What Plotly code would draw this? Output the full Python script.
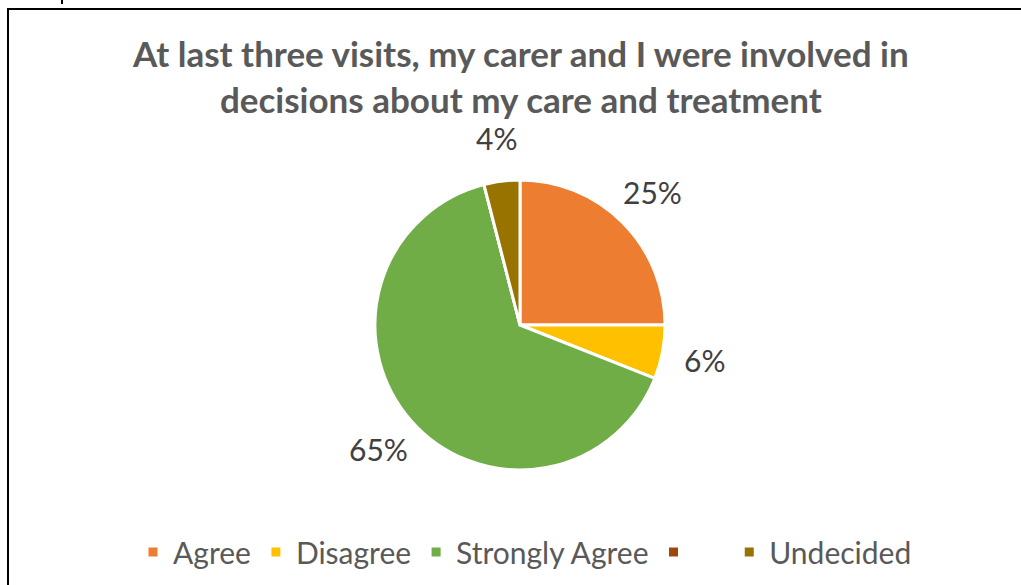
import math
import plotly.graph_objects as go

# Survey responses (percent of respondents)
categories = ["Agree", "Disagree", "Strongly Agree", "\u00a0\u00a0\u00a0\u00a0", "Undecided"]
values = [25, 6, 65, 0, 4]
colors = ["#ED7D31", "#FFC000", "#70AD47", "#9E480E", "#997300"]

title_lines = [
    "At last three visits, my carer and I were involved in",
    "decisions about my care and treatment",
]

W, H = 1021, 585
CX, CY, R = 520, 325, 145      # pie centre and radius in pixels
LABEL_GAP = 43                 # distance of value labels beyond the rim

fig = go.Figure(
    go.Pie(
        labels=categories,
        values=values,
        sort=False,
        direction="clockwise",
        rotation=0,
        marker=dict(colors=colors, line=dict(color="white", width=3)),
        textinfo="none",
        hoverinfo="label+percent",
        domain=dict(
            x=[(CX - R) / W, (CX + R) / W],
            y=[(H - CY - R) / H, (H - CY + R) / H],
        ),
    )
)

# Percentage labels placed outside each slice at its mid-angle
total = sum(values)
start = 0.0
annotations = []
for v in values:
    share = v / total
    mid = (start + share / 2) * 2 * math.pi
    start += share
    if v == 0:
        continue
    d = R + LABEL_GAP
    px = CX + d * math.sin(mid)
    py = CY - d * math.cos(mid)
    annotations.append(
        dict(
            x=px / W, y=1 - py / H, xref="paper", yref="paper",
            text=f"{round(share * 100)}%", showarrow=False,
            xanchor="center", yanchor="middle",
            font=dict(family="Lato", size=30, color="#404040"),
        )
    )

annotations.append(
    dict(
        x=CX / W, y=1 - 76 / H, xref="paper", yref="paper",
        text="<br>".join(f"<b>{t}</b>" for t in title_lines),
        showarrow=False, xanchor="center", yanchor="middle",
        font=dict(family="Lato", size=35, color="#595959"),
    )
)

fig.update_layout(
    width=W, height=H,
    margin=dict(l=0, r=0, t=0, b=0),
    paper_bgcolor="white",
    plot_bgcolor="white",
    annotations=annotations,
    showlegend=True,
    legend=dict(
        orientation="h",
        x=(CX + 5) / W, xanchor="center",
        y=1 - 552 / H, yanchor="middle",
        font=dict(family="Lato", size=30, color="#595959"),
        traceorder="normal",
        itemclick=False,
    ),
    shapes=[
        # chart frame (continues past the right and bottom edges)
        dict(type="rect", xref="paper", yref="paper",
             x0=8 / W, x1=1.02, y0=-0.02, y1=1 - 9 / H,
             line=dict(color="black", width=2), fillcolor="rgba(0,0,0,0)"),
        dict(type="line", xref="paper", yref="paper",
             x0=62 / W, x1=62 / W, y0=1 - 4 / H, y1=1.0,
             line=dict(color="black", width=2)),
    ],
)

fig.write_html("out.html")
